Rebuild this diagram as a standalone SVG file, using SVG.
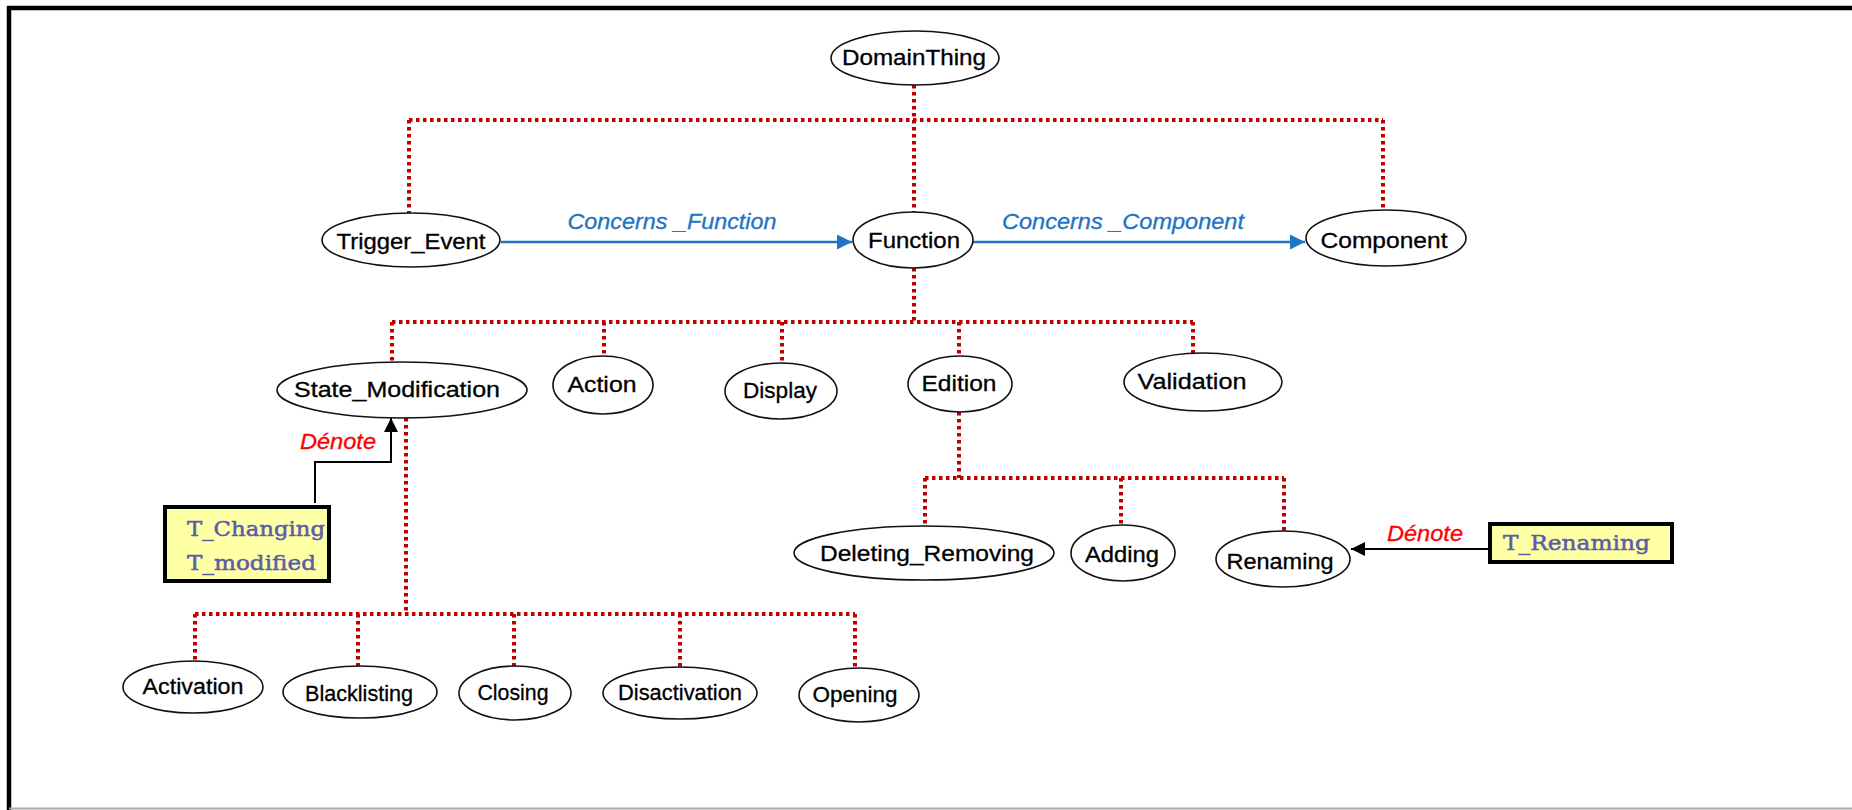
<svg xmlns="http://www.w3.org/2000/svg" width="1852" height="810" viewBox="0 0 1852 810">
<defs>
<marker id="blueArrow" viewBox="0 0 10 10" refX="10" refY="5" markerWidth="6" markerHeight="6" markerUnits="strokeWidth" orient="auto">
<path d="M0,0 L10,5 L0,10 z" fill="#1f74c4"/>
</marker>
<marker id="blackArrow" viewBox="0 0 10 10" refX="10" refY="5" markerWidth="7" markerHeight="7" markerUnits="strokeWidth" orient="auto">
<path d="M0,0 L10,5 L0,10 z" fill="#000"/>
</marker>
<style>
.node ellipse{fill:#fff;stroke:#111;stroke-width:1.6}
.node text{font-family:"Liberation Sans",Arial,sans-serif;font-size:22px;fill:#000;text-anchor:middle;dominant-baseline:central;stroke:#000;stroke-width:0.3}
.dot{fill:none;stroke:#c00000;stroke-width:4;stroke-dasharray:3.5 3.5}
.rel{fill:none;stroke:#1f74c4;stroke-width:2.5;marker-end:url(#blueArrow)}
.den{fill:none;stroke:#000;stroke-width:2;marker-end:url(#blackArrow)}
.rlabel{font-family:"Liberation Sans",Arial,sans-serif;font-style:italic;font-size:22px;fill:#1f74c4;stroke:#1f74c4;stroke-width:0.3;text-anchor:middle}
.dlabel{font-family:"Liberation Sans",Arial,sans-serif;font-style:italic;font-size:22px;fill:#ff0000;stroke:#ff0000;stroke-width:0.3;text-anchor:middle}
.term rect{fill:#ffffa6;stroke:#000;stroke-width:4}
.term text{font-family:"DejaVu Serif","Liberation Serif",serif;font-size:21px;fill:#5a5ca8;stroke:#5a5ca8;stroke-width:0.5}
</style>
</defs>
<rect x="0" y="0" width="1852" height="810" fill="#fff"/>
<g id="frame">
<line x1="7" y1="8" x2="1852" y2="8" stroke="#000" stroke-width="4.5"/>
<line x1="9" y1="6" x2="9" y2="810" stroke="#000" stroke-width="4.5"/>
<line x1="9" y1="808.5" x2="1852" y2="808.5" stroke="#aaa" stroke-width="2"/>
</g>
<g id="connectors">
<path class="dot" d="M914,85 V120 M409,120 H1383 M409,120 V213 M914,120 V212 M1383,120 V210"/>
<path class="dot" d="M914,268 V322 M392,322 H1193 M392,322 V362 M604,322 V356 M782,322 V363 M959,322 V356 M1193,322 V353"/>
<path class="dot" d="M959,412 V478 M925,478 H1284 M925,478 V527 M1121,478 V526 M1284,478 V531"/>
<path class="dot" d="M406,418 V614 M195,614 H855 M195,614 V661 M358,614 V667 M514,614 V666 M680,614 V667 M855,614 V668"/>
<path class="rel" d="M501,242 H852"/>
<path class="rel" d="M972,242 H1305"/>
<text class="rlabel" x="672" y="229" textLength="209" lengthAdjust="spacingAndGlyphs">Concerns _Function</text>
<text class="rlabel" x="1123" y="229" textLength="242" lengthAdjust="spacingAndGlyphs">Concerns _Component</text>
<path class="den" d="M315,503 V462 H391 V418"/>
<text class="dlabel" x="338" y="449" textLength="76" lengthAdjust="spacingAndGlyphs">Dénote</text>
<path class="den" d="M1488,549 H1351"/>
<text class="dlabel" x="1425" y="541" textLength="76" lengthAdjust="spacingAndGlyphs">Dénote</text>
</g>
<g id="DomainThing" class="node"><ellipse cx="915" cy="58" rx="84" ry="27"/><text x="914" y="57" textLength="144" lengthAdjust="spacingAndGlyphs">DomainThing</text></g>
<g id="Trigger_Event" class="node"><ellipse cx="411" cy="240" rx="89" ry="27"/><text x="411" y="241" textLength="149" lengthAdjust="spacingAndGlyphs">Trigger_Event</text></g>
<g id="Function" class="node"><ellipse cx="913" cy="240" rx="60" ry="28"/><text x="914" y="240" textLength="92" lengthAdjust="spacingAndGlyphs">Function</text></g>
<g id="Component" class="node"><ellipse cx="1386" cy="238" rx="80" ry="28"/><text x="1384" y="240" textLength="127" lengthAdjust="spacingAndGlyphs">Component</text></g>
<g id="State_Modification" class="node"><ellipse cx="402" cy="390" rx="125" ry="28"/><text x="397" y="389" textLength="206" lengthAdjust="spacingAndGlyphs">State_Modification</text></g>
<g id="Action" class="node"><ellipse cx="603" cy="385" rx="50" ry="29"/><text x="602" y="384" textLength="69" lengthAdjust="spacingAndGlyphs">Action</text></g>
<g id="Display" class="node"><ellipse cx="781" cy="391" rx="56" ry="28"/><text x="780" y="390" textLength="74" lengthAdjust="spacingAndGlyphs">Display</text></g>
<g id="Edition" class="node"><ellipse cx="960" cy="384" rx="52" ry="28"/><text x="959" y="383" textLength="75" lengthAdjust="spacingAndGlyphs">Edition</text></g>
<g id="Validation" class="node"><ellipse cx="1203" cy="382" rx="79" ry="29"/><text x="1192" y="381" textLength="109" lengthAdjust="spacingAndGlyphs">Validation</text></g>
<g id="Deleting_Removing" class="node"><ellipse cx="924" cy="553" rx="130" ry="27"/><text x="927" y="553" textLength="214" lengthAdjust="spacingAndGlyphs">Deleting_Removing</text></g>
<g id="Adding" class="node"><ellipse cx="1123" cy="553" rx="52" ry="28"/><text x="1122" y="554" textLength="74" lengthAdjust="spacingAndGlyphs">Adding</text></g>
<g id="Renaming" class="node"><ellipse cx="1283" cy="559" rx="67" ry="28"/><text x="1280" y="561" textLength="107" lengthAdjust="spacingAndGlyphs">Renaming</text></g>
<g id="Activation" class="node"><ellipse cx="193" cy="687" rx="70" ry="26"/><text x="193" y="686" textLength="101" lengthAdjust="spacingAndGlyphs">Activation</text></g>
<g id="Blacklisting" class="node"><ellipse cx="360" cy="692" rx="77" ry="26"/><text x="359" y="693" textLength="108" lengthAdjust="spacingAndGlyphs">Blacklisting</text></g>
<g id="Closing" class="node"><ellipse cx="515" cy="693" rx="56" ry="27"/><text x="513" y="692" textLength="71" lengthAdjust="spacingAndGlyphs">Closing</text></g>
<g id="Disactivation" class="node"><ellipse cx="680" cy="693" rx="77" ry="26"/><text x="680" y="692" textLength="124" lengthAdjust="spacingAndGlyphs">Disactivation</text></g>
<g id="Opening" class="node"><ellipse cx="859" cy="695" rx="60" ry="27"/><text x="855" y="694" textLength="85" lengthAdjust="spacingAndGlyphs">Opening</text></g>
<g id="T_Changing_box" class="term"><rect x="165" y="507" width="164" height="74"/><text x="187" y="536" textLength="138" lengthAdjust="spacingAndGlyphs">T_Changing</text><text x="187" y="570" textLength="129" lengthAdjust="spacingAndGlyphs">T_modified</text></g>
<g id="T_Renaming_box" class="term"><rect x="1490" y="524" width="182" height="38"/><text x="1503" y="550" textLength="147" lengthAdjust="spacingAndGlyphs">T_Renaming</text></g>
</svg>
